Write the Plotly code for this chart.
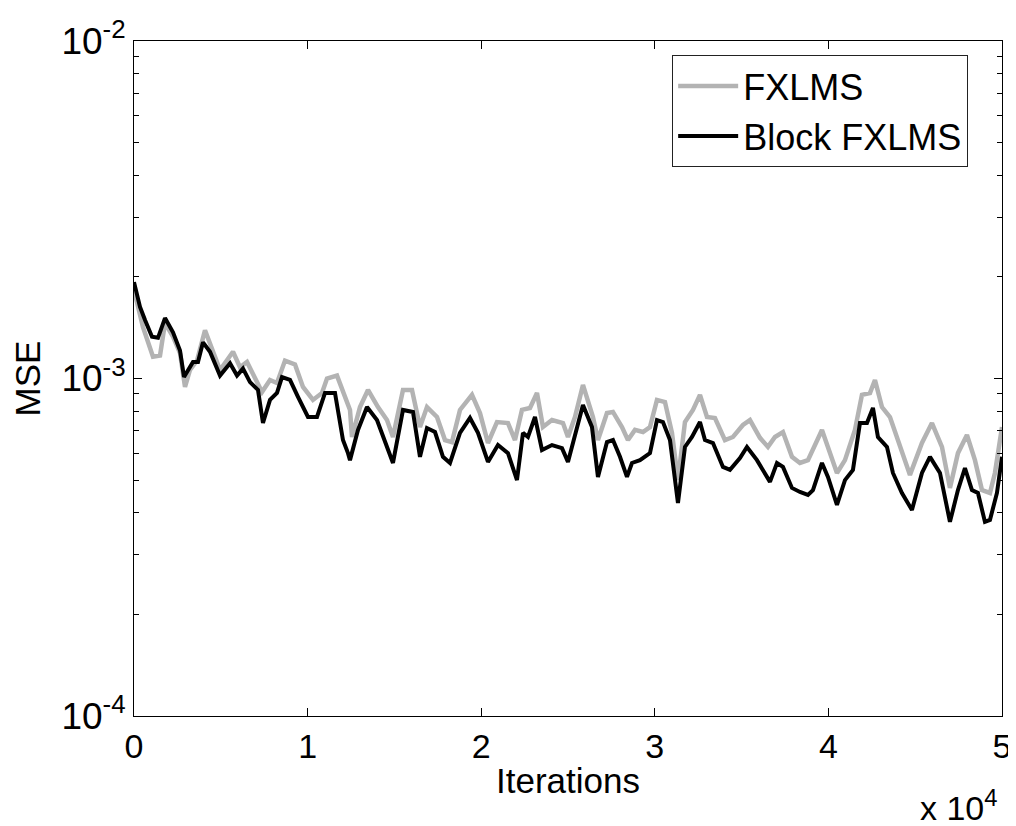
import plotly.graph_objects as go

# ---- data (iterations, MSE in units of 1e-3) ----
fx_iter = [0, 518, 1094, 1498, 1786, 2246, 2650, 2938, 3226, 3629, 4090, 4493, 4954, 5702, 6106, 6509,
           6970, 7373, 7834, 8237, 8698, 9274, 9734, 10310, 10829, 11117, 11693, 12038, 12442, 12557,
           13018, 13478, 14054, 14573, 14918, 15494, 16013, 16474, 16877, 17453, 17914, 18317, 18778,
           19469, 19930, 20390, 20909, 21542, 21946, 22349, 22810, 23213, 23558, 24077, 24710, 24998,
           25402, 25862, 26438, 26726, 27245, 27590, 28109, 28454, 28858, 29318, 29722, 30125, 30586,
           30989, 31334, 31738, 32198, 32602, 33005, 33466, 34042, 34502, 35078, 35482, 36058, 36518,
           36922, 37382, 37901, 38362, 38822, 39629, 39974, 40493, 40954, 41530, 41933, 42394, 42682,
           43085, 43546, 44122, 44698, 45389, 45965, 46541, 47002, 47462, 47981, 48442, 48845, 49306,
           49594, 50000]
fx_mse = [1.83, 1.42, 1.16, 1.17, 1.46, 1.33, 1.19, 0.944, 1.06, 1.13, 1.39, 1.23, 1.06, 1.20, 1.08, 1.12,
          1.00, 0.912, 0.99, 0.970, 1.13, 1.10, 0.944, 0.864, 0.906, 1.00, 1.02, 0.906, 0.807, 0.671,
          0.823, 0.925, 0.823, 0.753, 0.671, 0.925, 0.925, 0.718, 0.823, 0.769, 0.657, 0.648, 0.807,
          0.894, 0.790, 0.644, 0.743, 0.738, 0.657, 0.807, 0.818, 0.906, 0.718, 0.753, 0.738, 0.671,
          0.769, 0.957, 0.769, 0.657, 0.790, 0.796, 0.718, 0.657, 0.704, 0.694, 0.718, 0.864, 0.852,
          0.690, 0.500, 0.743, 0.807, 0.894, 0.769, 0.764, 0.657, 0.671, 0.728, 0.753, 0.667, 0.627,
          0.671, 0.694, 0.586, 0.562, 0.573, 0.704, 0.622, 0.525, 0.573, 0.704, 0.894, 0.906, 0.99,
          0.823, 0.769, 0.627, 0.518, 0.644, 0.738, 0.627, 0.474, 0.601, 0.680, 0.573, 0.467, 0.458,
          0.525, 0.718]

blk_iter = [0, 346, 634, 1037, 1382, 1786, 2246, 2650, 2880, 3110,
            3398, 3686, 3974, 4378, 4954, 5530, 5933, 6278, 6682, 7142,
            7430, 7834, 8237, 8525, 8986, 9446, 10022, 10541, 11002, 11578,
            12038, 12326, 12442, 12902, 13421, 13997, 14458, 14918, 15494, 16070,
            16474, 16877, 17338, 17798, 18202, 18778, 19354, 19814, 20390, 20966,
            21542, 22061, 22406, 22694, 23098, 23501, 24077, 24653, 24998, 25402,
            25862, 26381, 26726, 27245, 27590, 27994, 28397, 28685, 29146, 29722,
            30125, 30470, 30874, 31334, 31738, 32141, 32602, 32890, 33350, 33926,
            34330, 34906, 35309, 35885, 36230, 36634, 37037, 37382, 37901, 38362,
            38822, 39110, 39629, 39974, 40493, 40954, 41414, 41818, 42221, 42566,
            42854, 43373, 43718, 44237, 44813, 45389, 45850, 46426, 47002, 47462,
            47866, 48269, 48614, 49018, 49306, 49709, 50000]
blk_mse = [1.93, 1.63, 1.49, 1.33, 1.32, 1.51, 1.37, 1.21, 1.01, 1.06,
           1.12, 1.12, 1.28, 1.20, 1.02, 1.11, 1.02, 1.07, 0.976, 0.925,
           0.738, 0.864, 0.906, 1.01, 0.99, 0.882, 0.769, 0.769, 0.906, 0.906,
           0.657, 0.601, 0.573, 0.704, 0.823, 0.753, 0.644, 0.562, 0.807, 0.796,
           0.586, 0.713, 0.694, 0.586, 0.562, 0.690, 0.764, 0.690, 0.566, 0.635,
           0.601, 0.500, 0.690, 0.671, 0.769, 0.614, 0.635, 0.622, 0.566, 0.671,
           0.835, 0.718, 0.511, 0.648, 0.657, 0.586, 0.511, 0.562, 0.573, 0.601,
           0.753, 0.743, 0.657, 0.428, 0.627, 0.671, 0.743, 0.657, 0.644, 0.547,
           0.536, 0.581, 0.627, 0.573, 0.536, 0.494, 0.562, 0.547, 0.474, 0.461,
           0.452, 0.467, 0.562, 0.511, 0.422, 0.500, 0.536, 0.738, 0.738, 0.818,
           0.671, 0.627, 0.525, 0.458, 0.408, 0.525, 0.586, 0.525, 0.376, 0.467,
           0.543, 0.467, 0.458, 0.376, 0.381, 0.458, 0.586]

x_ticks = [0, 10000, 20000, 30000, 40000, 50000]
x_ticklabels = ["0", "1", "2", "3", "4", "5"]
y_ticks = [1e-4, 1e-3, 1e-2]
y_ticklabels = ["10<sup>-4</sup>", "10<sup>-3</sup>", "10<sup>-2</sup>"]
y_minor = [m * 10.0 ** e for e in (-4, -3) for m in range(2, 10)]

FONT = "Liberation Sans, Arial, sans-serif"

fig = go.Figure()
fig.add_trace(go.Scatter(x=fx_iter, y=[v * 1e-3 for v in fx_mse], mode="lines", name="FXLMS",
                         line=dict(color="#b3b3b3", width=4.5)))
fig.add_trace(go.Scatter(x=blk_iter, y=[v * 1e-3 for v in blk_mse], mode="lines", name="Block FXLMS",
                         line=dict(color="#000000", width=4)))

# The page adds an 8px body margin, so the figure is 8px smaller than the window.
fig.update_layout(
    template="none",
    width=1008, height=818,
    margin=dict(l=126, r=14, t=33, b=110, autoexpand=False),
    paper_bgcolor="white", plot_bgcolor="white",
    font=dict(family=FONT, size=34, color="black"),
    showlegend=True,
    legend=dict(x=0.62, y=0.979, xanchor="left", yanchor="top",
                bordercolor="#222222", borderwidth=1, bgcolor="white",
                font=dict(size=36), tracegroupgap=0, itemwidth=60),
    xaxis=dict(range=[0, 50000], tickvals=x_ticks, ticktext=x_ticklabels, automargin=False,
               showline=True, linecolor="black", linewidth=1, mirror="allticks",
               ticks="inside", ticklen=8, tickcolor="black", showgrid=False, zeroline=False,
               tickfont=dict(size=34),
               title=dict(text="Iterations", standoff=4, font=dict(size=35))),
    yaxis=dict(type="log", range=[-4, -2], tickvals=y_ticks, ticktext=y_ticklabels, automargin=False,
               showline=True, linecolor="black", linewidth=1, mirror="allticks",
               ticks="inside", ticklen=8, tickcolor="black", showgrid=False, zeroline=False,
               tickfont=dict(size=37),
               minor=dict(tickvals=y_minor, ticks="inside", ticklen=5, tickcolor="black", showgrid=False),
               title=dict(text="MSE", standoff=16, font=dict(size=35))),
    annotations=[dict(text="x 10<sup>4</sup>", xref="paper", yref="paper", x=0.998, y=-0.132,
                      xanchor="right", yanchor="middle", showarrow=False, font=dict(size=34))],
)

fig.write_html("out.html")
